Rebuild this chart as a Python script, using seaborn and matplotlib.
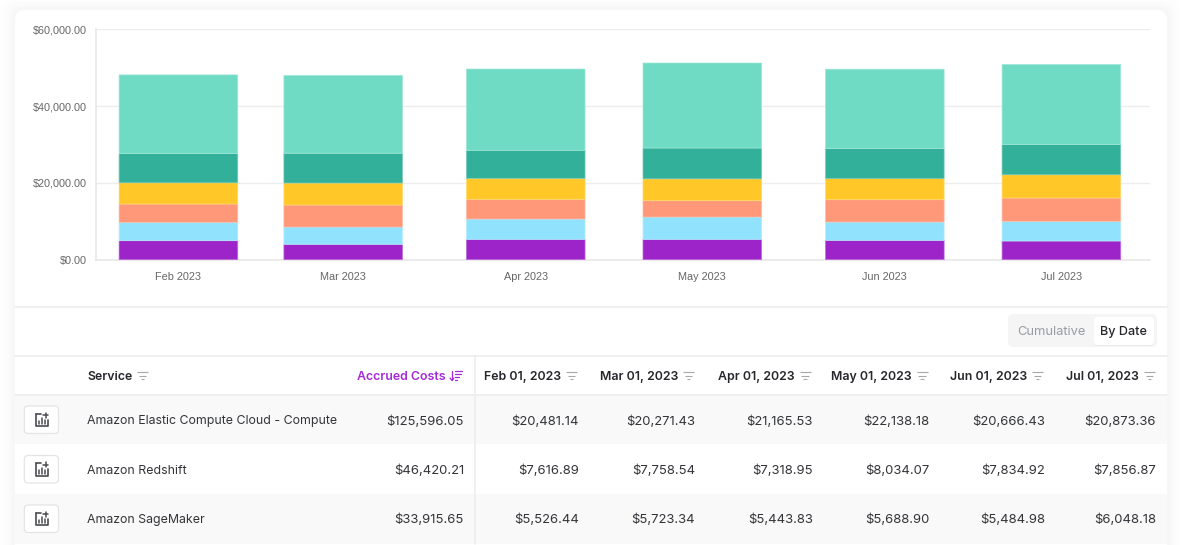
import matplotlib
matplotlib.use("Agg")
import matplotlib.pyplot as plt
from matplotlib.patches import FancyBboxPatch, Rectangle
import numpy as np
import pandas as pd
import seaborn as sns

# ---------- data ----------
months = ["Feb 2023", "Mar 2023", "Apr 2023", "May 2023", "Jun 2023", "Jul 2023"]
month_starts = ["2023-02-01", "2023-03-01", "2023-04-01", "2023-05-01", "2023-06-01", "2023-07-01"]
col_headers = ["Feb 01, 2023", "Mar 01, 2023", "Apr 01, 2023", "May 01, 2023", "Jun 01, 2023", "Jul 01, 2023"]
y_ticks = [0, 20000, 40000, 60000]

purple_service = [4950, 4010, 5310, 5310, 5050, 4870]
blue_service = [4790, 4505, 5290, 5810, 4770, 5130]
orange_service = [4760, 5730, 5130, 4245, 5805, 6070]
sagemaker = [5526.44, 5723.34, 5443.83, 5688.90, 5484.98, 6048.18]
redshift = [7616.89, 7758.54, 7318.95, 8034.07, 7834.92, 7856.87]
ec2 = [20481.14, 20271.43, 21165.53, 22138.18, 20666.43, 20873.36]

row_names = ["Amazon Elastic Compute Cloud - Compute", "Amazon Redshift", "Amazon SageMaker"]
row_totals = [125596.05, 46420.21, 33915.65]
row_values = [ec2, redshift, sagemaker]

stack_series = [purple_service, blue_service, orange_service, sagemaker, redshift, ec2]
stack_colors = ["#9D24C8", "#91E3FD", "#FF9878", "#FFC727", "#32B09A", "#70DBC5"]

# ---------- style ----------
sns.set_theme(style="white")
UI_FONT = ["Inter", "DejaVu Sans"]
CHART_FONT = ["Liberation Sans", "DejaVu Sans"]
plt.rcParams["font.family"] = UI_FONT

W, H = 1182, 545
fig = plt.figure(figsize=(W / 100, H / 100), dpi=100, facecolor="white")

# pixel-coordinate canvas for the card and table
bg = fig.add_axes([0, 0, 1, 1], zorder=0)
bg.set_xlim(0, W)
bg.set_ylim(H, 0)
bg.axis("off")

# soft card shadow
for grow, a in zip([14, 11, 8, 5, 3], [0.004, 0.005, 0.006, 0.007, 0.008]):
    bg.add_patch(FancyBboxPatch((15 - grow, 10 - grow), 1152 + 2 * grow, 600,
                                boxstyle="round,pad=0,rounding_size=12", fc="black", ec="none", alpha=a))
bg.add_patch(FancyBboxPatch((15, 10), 1152, 600, boxstyle="round,pad=0,rounding_size=10", fc="white", ec="none"))

# ---------- chart ----------
L, R, T, B = 96, 1149.7, 29.3, 259.7
ax = fig.add_axes([L / W, 1 - B / H, (R - L) / W, (B - T) / H], zorder=1)
ax.patch.set_alpha(0)

days = (pd.to_datetime(month_starts) - pd.Timestamp(month_starts[0])).days.to_numpy()
bottom = np.zeros(len(days))
for vals, color in zip(stack_series, stack_colors):
    frame = pd.DataFrame({"day": days, "value": vals})
    edge = tuple(0.65 * np.array(matplotlib.colors.to_rgb(color)) + 0.35)
    sns.barplot(data=frame, x="day", y="value", native_scale=True, width=0.72, color=color,
                saturation=1, errorbar=None, bottom=bottom, edgecolor=edge, linewidth=0.5, ax=ax, zorder=3)
    bottom = bottom + np.array(vals)
for p in ax.patches:
    p.set_snap(False)

ax.set_xlim(-14, 165)
ax.set_ylim(0, 60000)
ax.set_xlabel("")
ax.set_ylabel("")
ax.set_xticks(days)
ax.set_xticklabels(months, family=CHART_FONT, fontsize=7.8, color="#666666")
ax.set_yticks(y_ticks)
ax.set_yticklabels([f"${v:,.2f}" for v in y_ticks], family=CHART_FONT, fontsize=7.8, color="#666666")
ax.tick_params(axis="both", length=0)
ax.tick_params(axis="x", pad=8.5)
ax.tick_params(axis="y", pad=6.5)
ax.yaxis.grid(True, color="#EDEDED", linewidth=1)
ax.set_axisbelow(True)
for s in ["top", "right"]:
    ax.spines[s].set_visible(False)
for s in ["left", "bottom"]:
    ax.spines[s].set_color("#E6E6E6")
    ax.spines[s].set_linewidth(1.1)

# ---------- toolbar ----------
GRID = "#ECECEC"
bg.plot([15, 1167], [306.5, 306.5], color=GRID, lw=1.1)
bg.add_patch(FancyBboxPatch((1008, 314), 149, 33, boxstyle="round,pad=0,rounding_size=5", fc="#F5F5F6", ec="none"))
bg.add_patch(FancyBboxPatch((1094, 318), 60, 28, boxstyle="round,pad=0,rounding_size=4", fc="#E9E9E9", ec="none", alpha=0.7))
bg.add_patch(FancyBboxPatch((1094, 317), 60, 28, boxstyle="round,pad=0,rounding_size=4", fc="white", ec="none"))
bg.text(1051, 332, "Cumulative", ha="center", va="center", fontsize=9.3, color="#9A9CA3")
bg.text(1124, 332, "By Date", ha="center", va="center", fontsize=9.1, color="#26272B", weight="medium")

# ---------- table ----------
rows_y = [394.5, 444.3, 494, 543.5]
for i in range(3):
    c = "#F9F9F9" if i % 2 == 0 else "white"
    bg.add_patch(Rectangle((15, rows_y[i]), 1152, rows_y[i + 1] - rows_y[i], fc=c, ec="none"))
bg.plot([15, 1167], [355.5, 355.5], color=GRID, lw=1.1)
bg.plot([15, 1167], [394.5, 394.5], color=GRID, lw=1.1)
bg.plot([474.5, 474.5], [355.5, 543.5], color=GRID, lw=1.1)

HEAD = "#26272B"
BODY = "#333438"
PURPLE = "#A62BD8"
FILT = "#A5A7AD"
HEAD_SIZE = 8.9
NAME_SIZE = 8.9
VALUE_SIZE = 9.45


def filter_icon(x, y, color=FILT):
    for off, w in zip([-3.5, 0, 3.5], [11, 7.5, 3.5]):
        bg.plot([x + (11 - w) / 2, x + (11 + w) / 2], [y + off, y + off], color=color, lw=0.8, solid_capstyle="butt")


head_y = 375.5
text_head_y = 376.8
bg.text(87, text_head_y, "Service", ha="left", va="center", fontsize=HEAD_SIZE, color=HEAD, weight="semibold")
filter_icon(137, head_y)
bg.text(446, text_head_y, "Accrued Costs", ha="right", va="center", fontsize=HEAD_SIZE, color=PURPLE, weight="semibold")
# sort arrow + bars
bg.plot([452, 452], [370.5, 380], color=PURPLE, lw=0.9)
bg.plot([450, 452, 454], [378, 380.5, 378], color=PURPLE, lw=0.9)
for off, x0, x1 in [(-5, 455, 462), (-2, 455, 460.5), (1, 455, 459), (4, 455, 457)]:
    bg.plot([x0, x1], [head_y + off, head_y + off], color=PURPLE, lw=0.9)

col_text_right = [561, 678, 795, 912, 1027, 1139]
col_filter_x = [566, 683, 799.5, 916.5, 1032, 1144]
col_value_right = [579, 695, 813, 929.5, 1045, 1156]
for txt, tr, fx in zip(col_headers, col_text_right, col_filter_x):
    bg.text(tr, text_head_y, txt, ha="right", va="center", fontsize=HEAD_SIZE, color=HEAD, weight="semibold")
    filter_icon(fx, head_y)

row_text_y = [421.3, 470.8, 519.9]
btn_y = [406, 455.5, 505]
for i, (name, total, vals) in enumerate(zip(row_names, row_totals, row_values)):
    y = row_text_y[i]
    bg.add_patch(FancyBboxPatch((24.3, btn_y[i]), 34.2, 27.5, boxstyle="round,pad=0,rounding_size=4",
                                fc="white", ec="#E4E4E7", lw=0.9))
    # chart-plus glyph
    cx, cy = 35.5, btn_y[i] + 7.5
    bg.plot([cx, cx, cx + 12.5, cx + 12.5], [cy, cy + 12.5, cy + 12.5, cy + 6], color="#4A4B50", lw=1.2)
    bg.plot([cx, cx + 5.5], [cy, cy], color="#4A4B50", lw=1.2)
    for dx, h in [(3.3, 3.5), (6.3, 6), (9.3, 4)]:
        bg.plot([cx + dx, cx + dx], [cy + 10.5, cy + 10.5 - h], color="#4A4B50", lw=1.1)
    bg.plot([cx + 7.5, cx + 12.5], [cy + 1.5, cy + 1.5], color="#4A4B50", lw=1.1)
    bg.plot([cx + 10, cx + 10], [cy - 1, cy + 4], color="#4A4B50", lw=1.1)

    bg.text(87, y, name, ha="left", va="center", fontsize=NAME_SIZE, color=BODY)
    bg.text(464, y, f"${total:,.2f}", ha="right", va="center", fontsize=VALUE_SIZE, color=BODY)
    for v, xr in zip(vals, col_value_right):
        bg.text(xr, y, f"${v:,.2f}", ha="right", va="center", fontsize=VALUE_SIZE, color=BODY)

fig.savefig("out.png", dpi=100, facecolor="white")
